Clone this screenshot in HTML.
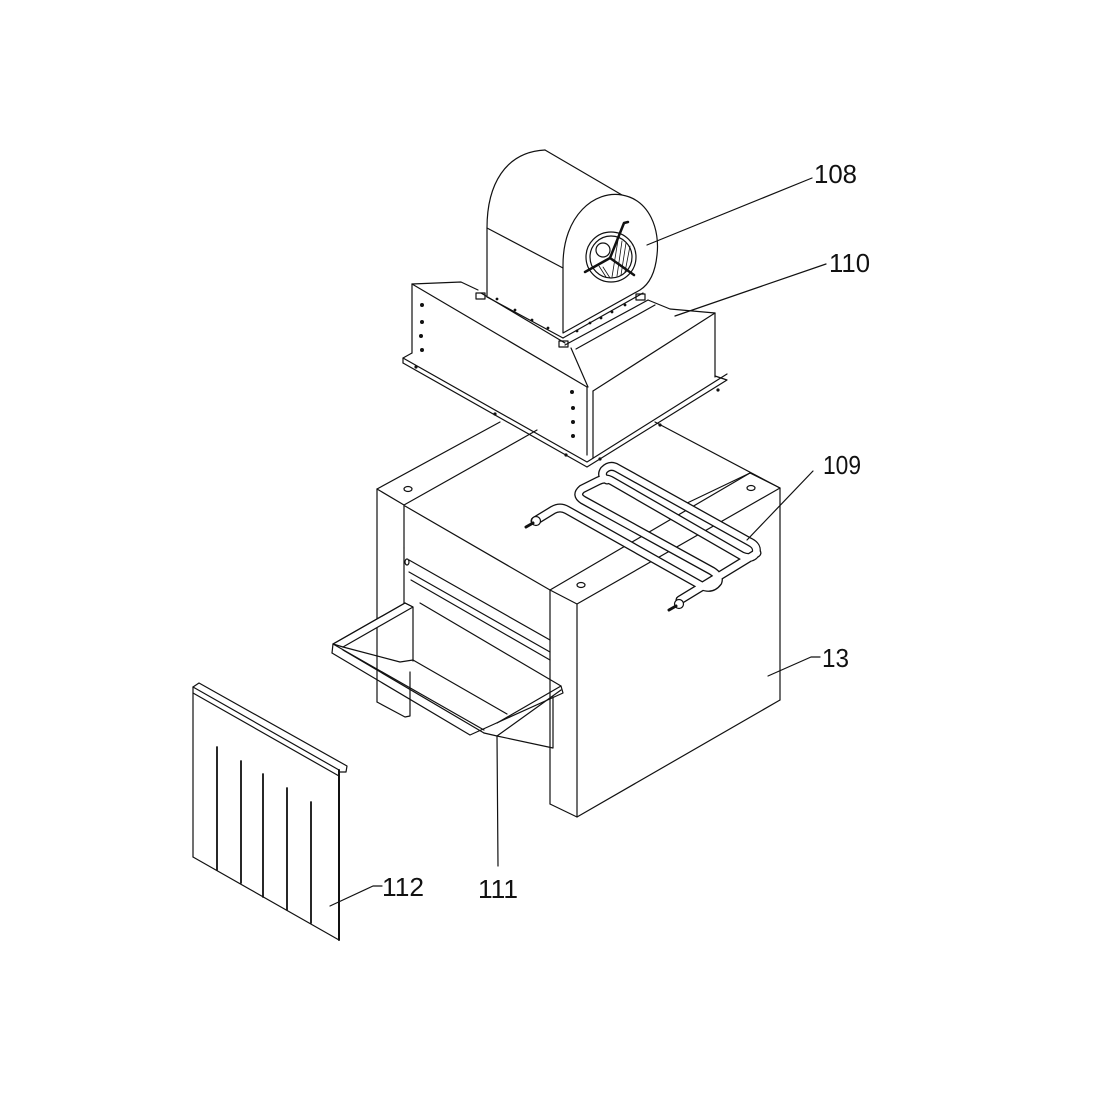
<!DOCTYPE html>
<html><head><meta charset="utf-8"><style>
html,body{margin:0;padding:0;background:#fff;}
svg{display:block}
text{font-family:"Liberation Sans",sans-serif;font-size:26px;fill:#111;}
</style></head><body>
<svg width="1100" height="1100" viewBox="0 0 1100 1100" xmlns="http://www.w3.org/2000/svg">
<g fill="none" stroke="#111" stroke-width="1.2" stroke-linejoin="round" stroke-linecap="round">
<!-- ===== Lower box 13 ===== -->
<!-- top outer edges (back) -->
<polyline points="377,489 500,422"/>
<polyline points="655,422 780,488"/>
<!-- left pillar -->
<polyline points="377,489 404,505 404,548"/>
<line x1="377" y1="489" x2="377" y2="702"/>
<polyline points="377,702 405,717 410,716 410,690"/>
<line x1="404" y1="548" x2="404" y2="605"/>
<!-- inner top face -->
<polyline points="404,505 523,438"/>
<line x1="405" y1="506" x2="550" y2="590"/>
<line x1="523" y1="438" x2="537" y2="430"/>
<!-- right pillar top -->
<polygon points="550,590 577,604 780,488 750,473"/>
<line x1="692" y1="423" x2="750" y2="473" stroke="none"/>
<line x1="683" y1="505" x2="750" y2="473"/>
<!-- front faces -->
<line x1="550" y1="590" x2="550" y2="804"/>
<line x1="577" y1="604" x2="577" y2="817"/>
<line x1="780" y1="488" x2="780" y2="700"/>
<polyline points="550,804 577,817 780,700"/>
<!-- inner section lines -->
<line x1="409" y1="572" x2="550" y2="652"/>
<line x1="411" y1="580" x2="550" y2="660"/>
<line x1="409" y1="560" x2="550" y2="640"/>
<ellipse cx="407" cy="562" rx="2" ry="3"/>
<!-- holes -->
<ellipse cx="408" cy="489" rx="4" ry="2.5"/>
<ellipse cx="751" cy="488" rx="4" ry="2.5"/>
<ellipse cx="581" cy="585" rx="4" ry="2.5"/>

<!-- ===== Drip tray 111 ===== -->
<polygon points="333,644 405,603 413,607 343,647" fill="#fff"/>
<polyline points="333,644 405,603"/>
<polyline points="420,603 561,686 497,723"/>
<polyline points="405,603 413,607 413,661"/>
<polyline points="332,653 470,735 563,693 561,686"/>
<polyline points="333,644 332,653"/>
<polyline points="343,647 400,662 413,660 507,714"/>
<line x1="343" y1="650" x2="484" y2="733"/>
<line x1="333" y1="644" x2="484" y2="730"/>
<polyline points="484,733 497,736 561,690"/>
<polyline points="497,736 553,748 553,697"/>
<line x1="410" y1="672" x2="410" y2="690"/>

<!-- ===== Panel 112 ===== -->
<polyline points="193,687 199,683 347,766 346,772 339,772"/>
<polyline points="193,687 339,770"/>
<line x1="193" y1="693" x2="339" y2="776"/>
<line x1="193" y1="687" x2="193" y2="857"/>
<polyline points="193,857 339,940"/>
<line x1="339" y1="770" x2="339" y2="940" stroke-width="2"/>
<line x1="217" y1="747" x2="217" y2="870" stroke-width="1.8"/>
<line x1="241" y1="761" x2="241" y2="883" stroke-width="1.8"/>
<line x1="263" y1="774" x2="263" y2="897" stroke-width="1.8"/>
<line x1="287" y1="788" x2="287" y2="910" stroke-width="1.8"/>
<line x1="311" y1="802" x2="311" y2="923" stroke-width="1.8"/>

<!-- ===== Plenum 110 ===== -->
<polygon points="412,284 587,387 715,313 715,378 587,455 412,353" fill="#fff" stroke="none"/>
<polyline points="403,363 587,467 727,380 715,376"/>
<polyline points="403,363 403,358 412,353"/>
<polyline points="403,358 587,462 727,374"/>
<line x1="412" y1="284" x2="412" y2="353"/>
<line x1="587" y1="387" x2="587" y2="455"/>
<line x1="593" y1="391" x2="593" y2="458"/>
<line x1="715" y1="313" x2="715" y2="377"/>
<line x1="412" y1="284" x2="587" y2="387"/>
<line x1="593" y1="391" x2="715" y2="313"/>
<polyline points="412,284 461,282 478,290"/>
<polyline points="648,300 670,309 715,313"/>
<line x1="481" y1="293" x2="565" y2="343"/>
<line x1="565" y1="345" x2="648" y2="300"/>
<line x1="576" y1="349" x2="655" y2="305"/>
<line x1="571" y1="348" x2="588" y2="387"/>
<g fill="#111" stroke="none">
<circle cx="422" cy="305" r="2"/><circle cx="422" cy="322" r="2"/><circle cx="421" cy="336" r="2"/><circle cx="422" cy="350" r="2"/>
<circle cx="572" cy="392" r="2"/><circle cx="573" cy="408" r="2"/><circle cx="573" cy="422" r="2"/><circle cx="573" cy="436" r="2"/>
<circle cx="416" cy="367" r="1.6"/><circle cx="495" cy="414" r="1.6"/><circle cx="566" cy="455" r="1.6"/>
<circle cx="600" cy="459" r="1.6"/><circle cx="660" cy="425" r="1.6"/><circle cx="718" cy="390" r="1.6"/>
<circle cx="497" cy="299" r="1.4"/><circle cx="515" cy="310" r="1.4"/><circle cx="532" cy="320" r="1.4"/><circle cx="548" cy="328" r="1.4"/>
<circle cx="577" cy="331" r="1.4"/><circle cx="590" cy="323" r="1.4"/><circle cx="601" cy="318" r="1.4"/><circle cx="612" cy="312" r="1.4"/><circle cx="625" cy="305" r="1.4"/>
</g>
<rect x="476" y="293" width="9" height="6"/>
<rect x="559" y="341" width="9" height="6"/>
<rect x="636" y="294" width="9" height="6"/>

<!-- ===== Fan 108 ===== -->
<path d="M487,297 L487,228 C487,180 510,150 545,150 L628,197 L563,268 Z" fill="#fff" stroke="none"/>
<path d="M487,297 L487,228 C487,185 505,152 545,150"/>
<line x1="545" y1="150" x2="622" y2="195"/>
<line x1="487" y1="228" x2="563" y2="268"/>
<path d="M563,333 L563,265 C563,215 595,190 622,195 C650,200 660,230 657,255 C655,275 648,285 640,290 L563,333 Z" fill="#fff"/>
<line x1="487" y1="297" x2="563" y2="338"/>
<line x1="563" y1="338" x2="643" y2="293"/>
<circle cx="611" cy="257" r="25"/>
<circle cx="611" cy="257" r="21"/>
<g stroke-width="0.8">
<line x1="618" y1="240" x2="612" y2="277"/><line x1="622" y1="241" x2="617" y2="276"/><line x1="626" y1="243" x2="621" y2="275"/><line x1="630" y1="246" x2="625" y2="272"/><line x1="599" y1="266" x2="606" y2="277"/><line x1="603" y1="267" x2="610" y2="278"/>
</g>
<circle cx="603" cy="250" r="7"/>
<polyline points="610,258 624,223 628,222" stroke-width="2.5"/>
<polyline points="610,258 585,272" stroke-width="2.5"/>
<polyline points="610,258 634,275" stroke-width="2.5"/>

<!-- ===== Heater 109 ===== -->
<g stroke="#111" stroke-width="9" stroke-linecap="round" stroke-linejoin="round">
<path d="M535,521 L553,510 Q560,506 567,510 L702,586 Q712,590 718,582 Q720,576 712,571 L583,500 Q575,495 582,489 L598,481 Q606,477 612,481 L742,556 Q752,560 756,553 Q758,546 750,542 L617,468 Q610,464 604,470 Q600,476 607,480 M757,553 L680,600"/>
</g>
<g stroke="#fff" stroke-width="6.4" stroke-linecap="round" stroke-linejoin="round">
<path d="M535,521 L553,510 Q560,506 567,510 L702,586 Q712,590 718,582 Q720,576 712,571 L583,500 Q575,495 582,489 L598,481 Q606,477 612,481 L742,556 Q752,560 756,553 Q758,546 750,542 L617,468 Q610,464 604,470 Q600,476 607,480 M757,553 L680,600"/>
</g>
<circle cx="536" cy="521" r="4.5" fill="#fff"/>
<circle cx="679" cy="604" r="4.5" fill="#fff"/>
<line x1="526" y1="527" x2="533" y2="523" stroke-width="3"/>
<line x1="669" y1="610" x2="676" y2="606" stroke-width="3"/>

<!-- ===== Leaders ===== -->
<polyline points="647,245 812,178"/>
<polyline points="675,316 826,264"/>
<polyline points="747,540 813,471"/>
<polyline points="768,676 811,657 820,657"/>
<line x1="497" y1="736" x2="498" y2="866"/>
<polyline points="330,906 373,886 382,886"/>
</g>
<text x="814" y="183" textLength="43" lengthAdjust="spacingAndGlyphs">108</text>
<text x="829" y="272" textLength="41" lengthAdjust="spacingAndGlyphs">110</text>
<text x="823" y="474" textLength="38" lengthAdjust="spacingAndGlyphs">109</text>
<text x="822" y="667" textLength="27" lengthAdjust="spacingAndGlyphs">13</text>
<text x="478" y="898" textLength="40" lengthAdjust="spacingAndGlyphs">111</text>
<text x="382" y="896" textLength="42" lengthAdjust="spacingAndGlyphs">112</text>
</svg>
</body></html>
